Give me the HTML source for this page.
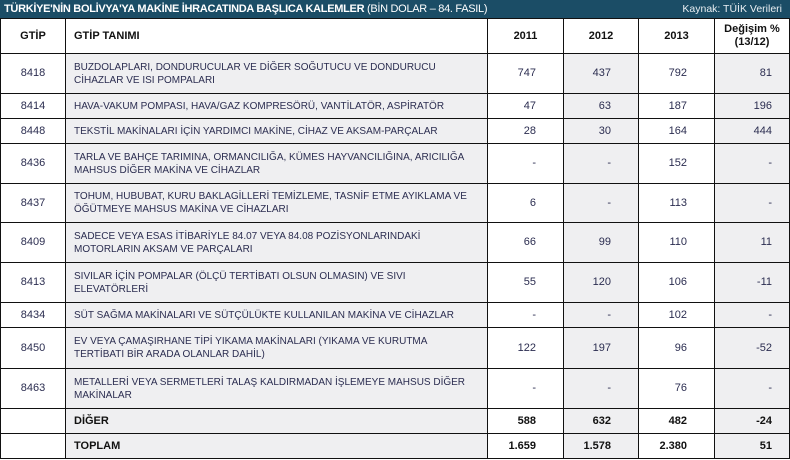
<!DOCTYPE html>
<html><head><meta charset="utf-8"><style>
body{margin:0;width:790px;height:460px;background:#fff;font-family:"Liberation Sans",sans-serif;overflow:hidden}
.bar{position:absolute;left:0;top:0;width:790px;height:18px;background:#1b4d66;color:#fff;font-size:11px;line-height:18px}
.bar b{position:absolute;left:4px;letter-spacing:-0.3px}
.bar span{position:absolute;right:8px;font-size:10.5px;color:#e8eef2}
table{position:absolute;left:0;top:18px;border-collapse:collapse;table-layout:fixed;width:789px}
td{border:1px solid #111;padding:0;font-size:10px;color:#2b2d50;vertical-align:middle;line-height:13px}
td.c{text-align:center;font-size:11px}
td.d{padding-left:8px;background:#efeff1}
td.n{text-align:right;padding-right:27px;font-size:11px}
td.g{background:#efeff1}
td.p{text-align:right;padding-right:17px;background:#efeff1;font-size:11px}
tr.h td{font-weight:bold;color:#111;background:#fff;font-size:11px}
tr.t td{font-weight:bold;color:#111;font-size:11px}
</style></head><body>
<div class="bar"><b>TÜRKİYE'NİN BOLİVYA'YA MAKİNE İHRACATINDA BAŞLICA KALEMLER <span style="position:static;font-weight:normal;color:#fff;font-size:11px">(BİN DOLAR – 84. FASIL)</span></b><span>Kaynak: TÜİK Verileri</span></div>
<table>
<colgroup><col style="width:65px"><col style="width:422px"><col style="width:76px"><col style="width:75px"><col style="width:76px"><col style="width:75px"></colgroup>
<tr class="h" style="height:35px"><td class="c">GTİP</td><td style="padding-left:8px">GTİP TANIMI</td><td class="c">2011</td><td class="c">2012</td><td class="c">2013</td><td class="c">Değişim %<br>(13/12)</td></tr>
<tr style="height:40px"><td class="c">8418</td><td class="d">BUZDOLAPLARI, DONDURUCULAR VE DİĞER SOĞUTUCU VE DONDURUCU<br>CİHAZLAR VE ISI POMPALARI</td><td class="n">747</td><td class="n g">437</td><td class="n">792</td><td class="p">81</td></tr>
<tr style="height:25px"><td class="c">8414</td><td class="d">HAVA-VAKUM POMPASI, HAVA/GAZ KOMPRESÖRÜ, VANTİLATÖR, ASPİRATÖR</td><td class="n">47</td><td class="n g">63</td><td class="n">187</td><td class="p">196</td></tr>
<tr style="height:25px"><td class="c">8448</td><td class="d">TEKSTİL MAKİNALARI İÇİN YARDIMCI MAKİNE, CİHAZ VE AKSAM-PARÇALAR</td><td class="n">28</td><td class="n g">30</td><td class="n">164</td><td class="p">444</td></tr>
<tr style="height:40px"><td class="c">8436</td><td class="d">TARLA VE BAHÇE TARIMINA, ORMANCILIĞA, KÜMES HAYVANCILIĞINA, ARICILIĞA<br>MAHSUS DİĞER MAKİNA VE CİHAZLAR</td><td class="n">-</td><td class="n g">-</td><td class="n">152</td><td class="p">-</td></tr>
<tr style="height:39px"><td class="c">8437</td><td class="d">TOHUM, HUBUBAT, KURU BAKLAGİLLERİ TEMİZLEME, TASNİF ETME AYIKLAMA VE<br>ÖĞÜTMEYE MAHSUS MAKİNA VE CİHAZLARI</td><td class="n">6</td><td class="n g">-</td><td class="n">113</td><td class="p">-</td></tr>
<tr style="height:40px"><td class="c">8409</td><td class="d">SADECE VEYA ESAS İTİBARİYLE 84.07 VEYA 84.08 POZİSYONLARINDAKİ<br>MOTORLARIN AKSAM VE PARÇALARI</td><td class="n">66</td><td class="n g">99</td><td class="n">110</td><td class="p">11</td></tr>
<tr style="height:40px"><td class="c">8413</td><td class="d">SIVILAR İÇİN POMPALAR (ÖLÇÜ TERTİBATI OLSUN OLMASIN) VE SIVI<br>ELEVATÖRLERİ</td><td class="n">55</td><td class="n g">120</td><td class="n">106</td><td class="p">-11</td></tr>
<tr style="height:25px"><td class="c">8434</td><td class="d">SÜT SAĞMA MAKİNALARI VE SÜTÇÜLÜKTE KULLANILAN MAKİNA VE CİHAZLAR</td><td class="n">-</td><td class="n g">-</td><td class="n">102</td><td class="p">-</td></tr>
<tr style="height:41px"><td class="c">8450</td><td class="d">EV VEYA ÇAMAŞIRHANE TİPİ YIKAMA MAKİNALARI (YIKAMA VE KURUTMA<br>TERTİBATI BİR ARADA OLANLAR DAHİL)</td><td class="n">122</td><td class="n g">197</td><td class="n">96</td><td class="p">-52</td></tr>
<tr style="height:40px"><td class="c">8463</td><td class="d">METALLERİ VEYA SERMETLERİ TALAŞ KALDIRMADAN İŞLEMEYE MAHSUS DİĞER<br>MAKİNALAR</td><td class="n">-</td><td class="n g">-</td><td class="n">76</td><td class="p">-</td></tr>
<tr class="t" style="height:25px"><td></td><td class="d">DİĞER</td><td class="n">588</td><td class="n g">632</td><td class="n">482</td><td class="p">-24</td></tr>
<tr class="t" style="height:25px"><td></td><td class="d">TOPLAM</td><td class="n">1.659</td><td class="n g">1.578</td><td class="n">2.380</td><td class="p">51</td></tr>
</table>
</body></html>
